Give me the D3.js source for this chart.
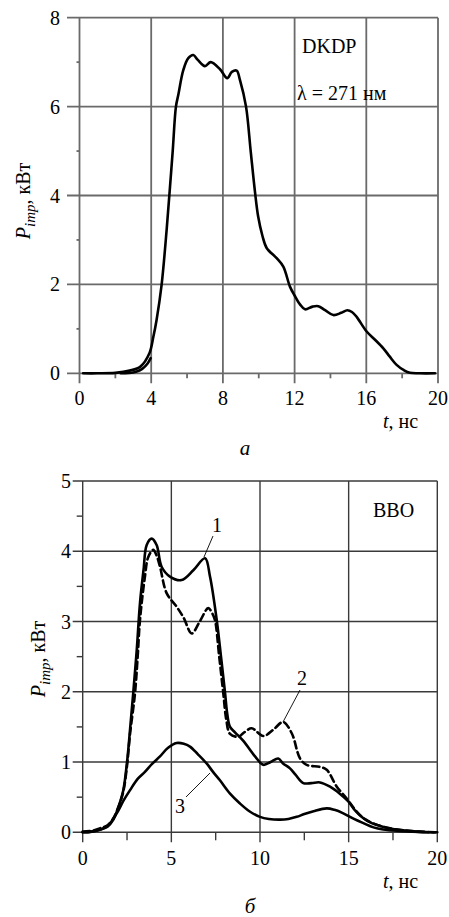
<!DOCTYPE html>
<html><head><meta charset="utf-8">
<script src="https://cdn.jsdelivr.net/npm/d3@7"></script>
<style>
svg text, svg tspan { font-family: "Liberation Serif", "Times New Roman", serif !important; }
</style>
</head>
<body style="margin:0">
<svg id="c" width="449" height="917"></svg>
<script>
const FSTYLE = 'font-family:"Liberation Serif","Times New Roman",serif !important;';
const dkdpT = [0.2,1,2,2.8,3.4,3.9,4.12,4.3,4.58,4.86,5.05,5.2,5.38,5.51,5.79,6.07,6.35,6.6,7.0,7.32,7.84,8.24,8.5,8.77,8.95,9.29,9.55,9.79,9.97,10.2,10.44,11.0,11.37,11.74,12.0,12.3,12.58,13.0,13.32,13.7,14.16,14.6,14.94,15.2,15.46,16.02,16.5,16.95,17.3,17.69,18.1,18.43,19.0,19.83];
const dkdpP = [0,0,0.01,0.06,0.15,0.45,0.82,1.2,1.99,3.22,4.2,5.0,6.0,6.26,6.82,7.09,7.16,7.05,6.91,7.0,6.84,6.64,6.78,6.81,6.6,6.0,5.0,4.08,3.52,3.1,2.82,2.59,2.4,1.95,1.75,1.55,1.44,1.5,1.51,1.42,1.31,1.36,1.42,1.38,1.27,0.94,0.75,0.56,0.38,0.19,0.07,0.01,0,0];
const dkdp2T = [2.3,3.0,3.19,3.5,3.8,3.97];
const dkdp2P = [0,0.02,0.04,0.1,0.22,0.34];
const bbo1T = [0,0.5,1.0,1.4,1.73,2.0,2.29,2.5,2.67,2.85,3.05,3.23,3.43,3.61,3.89,4.17,4.45,4.92,5.58,6.24,6.9,7.18,7.56,7.8,8.03,8.15,8.31,8.6,9.06,9.72,10.19,10.6,11.03,11.3,11.69,12.0,12.44,12.9,13.38,13.95,14.5,14.98,15.4,15.83,16.3,16.77,17.4,18.08,18.8,19.59,20];
const bbo1P = [0,0.01,0.04,0.08,0.18,0.35,0.6,1.0,1.46,1.98,2.6,3.26,3.73,4.09,4.18,4.09,3.78,3.64,3.59,3.73,3.9,3.64,3.02,2.5,1.98,1.69,1.5,1.42,1.3,1.08,0.96,1.0,1.05,0.98,0.91,0.82,0.7,0.7,0.71,0.65,0.55,0.44,0.3,0.2,0.13,0.09,0.05,0.03,0.01,0,0];
const bbo2T = [0,0.5,1.0,1.4,1.73,2.0,2.29,2.5,2.67,2.95,3.1,3.23,3.51,3.7,3.98,4.15,4.36,4.74,5.3,5.7,6.15,6.6,7.08,7.3,7.46,7.7,7.93,8.1,8.31,8.78,9.1,9.53,10.19,10.75,11.31,11.79,12.26,12.63,13.38,13.76,14.33,14.89,15.4,15.9,16.8,18.0,19.0,20];
const bbo2P = [0.01,0.02,0.06,0.1,0.2,0.35,0.58,0.95,1.4,1.98,2.5,3.02,3.64,3.92,4.02,3.95,3.78,3.4,3.21,3.05,2.83,3.0,3.19,3.12,3.02,2.5,1.98,1.6,1.4,1.36,1.42,1.48,1.37,1.46,1.57,1.41,1.05,0.96,0.93,0.89,0.65,0.48,0.31,0.19,0.09,0.03,0.01,0];
const bbo3T = [0,0.5,1.0,1.4,1.92,2.3,2.67,3.1,3.51,3.9,4.36,4.8,5.3,5.7,6.05,6.5,6.99,7.35,7.74,8.31,8.87,9.4,10.0,10.5,11.13,11.6,12.07,12.5,13.02,13.76,14.2,14.7,15.3,15.83,16.4,16.95,17.8,18.6,19.5];
const bbo3P = [0,0.01,0.04,0.09,0.27,0.45,0.6,0.76,0.86,0.97,1.08,1.2,1.27,1.26,1.22,1.11,0.98,0.86,0.74,0.55,0.41,0.3,0.22,0.19,0.18,0.19,0.22,0.26,0.3,0.34,0.32,0.27,0.19,0.13,0.07,0.04,0.02,0.01,0];

const aXMajor = [0,4,8,12,16,20];
const aXMinor = [2,6,10,14,18];
const aYMajor = [0,2,4,6,8];
const aYMinor = [1,3,5,7];
const bXMajor = [0,5,10,15,20];
const bXMinor = [2.5,7.5,12.5,17.5];
const bYMajor = [0,1,2,3,4,5];
const bYMinor = [0.5,1.5,2.5,3.5,4.5];

const svg = d3.select("#c");
const zip = (t,p)=>t.map((d,i)=>[d,p[i]]);
function txt(sel, s, extra){
  return sel.append("text").attr("style", FSTYLE + "font-size:" + (s||20) + "px;" + (extra||""))
    .attr("fill","#000");
}

function panel(o){
  const g = svg.append("g");
  const x = d3.scaleLinear().domain(o.xd).range(o.xr);
  const y = d3.scaleLinear().domain(o.yd).range(o.yr);
  const gs = o.gridStyle;
  g.selectAll(null).data(o.xMajor).enter().append("line")
    .attr("x1",d=>x(d)).attr("x2",d=>x(d))
    .attr("y1",y(o.yd[1])).attr("y2",y(o.yd[0])+o.xTick)
    .attr("stroke",gs.c).attr("stroke-width",gs.w);
  g.selectAll(null).data(o.yMajor).enter().append("line")
    .attr("y1",d=>y(d)).attr("y2",d=>y(d))
    .attr("x1",x(o.xd[0])-o.yTick).attr("x2",x(o.xd[1]))
    .attr("stroke",gs.c).attr("stroke-width",gs.w);
  g.selectAll(null).data(o.xMinor).enter().append("line")
    .attr("x1",d=>x(d)).attr("x2",d=>x(d))
    .attr("y1",y(o.yd[0])).attr("y2",y(o.yd[0])+o.xMinTick)
    .attr("stroke",gs.c).attr("stroke-width",gs.w);
  g.selectAll(null).data(o.yMinor).enter().append("line")
    .attr("y1",d=>y(d)).attr("y2",d=>y(d))
    .attr("x1",x(o.xd[0])-o.yMinTick).attr("x2",x(o.xd[0]))
    .attr("stroke",gs.c).attr("stroke-width",gs.w);
  g.selectAll(null).data(o.xMajor).enter().append("text")
    .attr("style", FSTYLE + "font-size:20px;").attr("fill","#000")
    .attr("text-anchor","middle").attr("x",d=>x(d)).attr("y",o.xLabY).text(d=>d);
  g.selectAll(null).data(o.yMajor).enter().append("text")
    .attr("style", FSTYLE + "font-size:20px;").attr("fill","#000")
    .attr("text-anchor","end").attr("x",o.yLabX).attr("y",d=>y(d)+7).text(d=>d);
  const line = d3.line().x(d=>x(d[0])).y(d=>y(d[1])).curve(d3.curveCatmullRom.alpha(0.5));
  o.series.forEach(s=>{
    g.append("path").attr("d",line(s.d)).attr("fill","none")
      .attr("stroke","#000").attr("stroke-width",2.6)
      .attr("stroke-linejoin","round").attr("stroke-linecap","round")
      .attr("stroke-dasharray",s.dash||null);
  });
}

function yLabel(cx,cy){
  const t = txt(svg).attr("transform",`translate(${cx},${cy}) rotate(-90)`)
    .attr("text-anchor","middle");
  t.append("tspan").attr("style",FSTYLE+"font-style:italic;").text("P");
  t.append("tspan").attr("style",FSTYLE+"font-style:italic;font-size:15px;").attr("dy",5).text("imp");
  t.append("tspan").attr("style",FSTYLE).attr("dy",-5).text(", кВт");
}
function xLabel(xx,yy){
  const t = txt(svg).attr("x",xx).attr("y",yy);
  t.append("tspan").attr("style",FSTYLE+"font-style:italic;").text("t");
  t.append("tspan").attr("style",FSTYLE).text(", нс");
}

panel({
  xd:[0,20], xr:[79.5,438], yd:[0,8], yr:[373.3,17.7],
  xMajor:aXMajor, xMinor:aXMinor, yMajor:aYMajor, yMinor:aYMinor,
  xTick:10, xMinTick:5, yTick:12.5, yMinTick:3, xLabY:405, yLabX:60,
  gridStyle:{c:"#6a6a6a",w:1.8},
  series:[{d:zip(dkdpT,dkdpP)},{d:zip(dkdp2T,dkdp2P)}]
});
txt(svg).attr("x",302).attr("y",53).text("DKDP");
txt(svg).attr("x",297).attr("y",100).text("λ = 271 нм");
yLabel(30,201);
xLabel(383,428);
txt(svg,21,"font-style:italic;").attr("x",245).attr("y",455).attr("text-anchor","middle").text("а");

panel({
  xd:[0,20], xr:[82.7,437.3], yd:[0,5], yr:[832.3,481],
  xMajor:bXMajor, xMinor:bXMinor, yMajor:bYMajor, yMinor:bYMinor,
  xTick:10, xMinTick:8, yTick:10, yMinTick:6, xLabY:865, yLabX:71,
  gridStyle:{c:"#3a3a3a",w:1.4},
  series:[{d:zip(bbo1T,bbo1P)},{d:zip(bbo2T,bbo2P),dash:"7,4"},{d:zip(bbo3T,bbo3P)}]
});
txt(svg).attr("x",373).attr("y",517).text("BBO");
yLabel(45,659);
xLabel(383,888);
txt(svg,21,"font-style:italic;").attr("x",250).attr("y",913).attr("text-anchor","middle").text("б");

const leaders = [
  {lab:"1", tx:217, ty:532, x1:213, y1:536, x2:204, y2:557},
  {lab:"2", tx:302, ty:685, x1:300, y1:690, x2:283, y2:722},
  {lab:"3", tx:180, ty:813, x1:186, y1:797, x2:210, y2:773}
];
leaders.forEach(l=>{
  svg.append("line").attr("x1",l.x1).attr("y1",l.y1).attr("x2",l.x2).attr("y2",l.y2)
    .attr("stroke","#000").attr("stroke-width",0.9);
  txt(svg).attr("x",l.tx).attr("y",l.ty).attr("text-anchor","middle").text(l.lab);
});
</script>
</body></html>
